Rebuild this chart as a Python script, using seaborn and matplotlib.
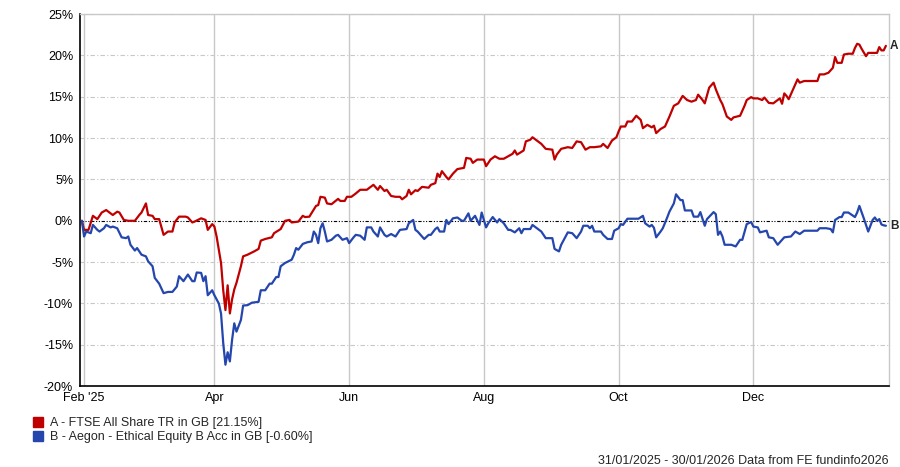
import pandas as pd
import matplotlib.pyplot as plt
import seaborn as sns
from matplotlib.lines import Line2D
from matplotlib.ticker import FuncFormatter

sns.set_style("white")
plt.rcParams['font.family'] = ['Liberation Sans', 'DejaVu Sans']
plt.rcParams['font.size'] = 9

start_date = '2025-01-31'

# days after 31/01/2025, cumulative return in %
ftse_days = [0, 1, 3, 5, 7, 9, 11, 14, 16, 17, 19, 21, 24, 26, 27, 29, 30, 32, 33, 35,
             37, 39, 41, 42, 44, 47, 48, 50, 51, 54, 56, 57, 59, 60, 61, 62, 63, 64, 65, 66,
             67, 68, 69, 70, 72, 73, 75, 78, 80, 81, 83, 86, 87, 90, 92, 94, 95, 98, 100, 101,
             103, 106, 107, 108, 110, 111, 113, 116, 117, 119, 120, 122, 124, 126, 129, 132, 134, 135, 137, 138,
             140, 142, 144, 145, 147, 148, 149, 151, 152, 154, 157, 158, 160, 161, 162, 163, 165, 166, 168, 170,
             173, 174, 176, 177, 179, 182, 183, 185, 187, 189, 191, 193, 195, 196, 197, 200, 201, 203, 204, 206,
             208, 210, 213, 214, 215, 217, 220, 222, 224, 226, 228, 230, 232, 235, 236, 238, 240, 242, 243, 244,
             246, 247, 249, 251, 253, 254, 256, 258, 259, 260, 262, 264, 266, 268, 270, 272, 274, 276, 278, 279,
             281, 282, 284, 286, 287, 289, 290, 292, 294, 295, 298, 300, 301, 303, 304, 306, 308, 309, 311, 313,
             316, 317, 318, 319, 320, 322, 324, 325, 327, 330, 333, 334, 336, 338, 340, 341, 342, 344, 345, 347,
             349, 350, 351, 352, 353, 355, 356, 358, 360, 361, 362, 363, 364]
ftse_pct = [0.0, -1.1, -1.1, 0.6, 0.2, 1.0, 1.3, 0.7, 1.1, 1.0, 0.1, 0.0, 0.0, 0.7, 1.0, 2.1, 0.7, 0.6, 0.2, 0.2,
            -1.7, -1.3, -1.3, -0.2, 0.5, 0.5, 0.4, -0.2, -0.1, 0.3, 0.1, -1.1, -0.4, -0.7, -1.9, -3.5, -5.1, -8.4, -10.8, -7.8,
            -11.2, -9.5, -8.3, -7.5, -5.5, -4.3, -4.1, -3.7, -3.4, -2.4, -2.2, -2.0, -1.5, -1.0, 0.0, 0.1, -0.2, -0.1, 0.6, 0.45,
            0.5, 1.8, 1.9, 2.9, 2.8, 2.1, 2.0, 2.65, 2.4, 2.4, 2.9, 2.9, 3.3, 3.75, 3.75, 4.35, 3.75, 4.2, 3.6, 3.75,
            3.0, 2.9, 2.9, 2.6, 3.0, 3.75, 3.2, 3.7, 3.6, 4.1, 4.0, 4.35, 4.55, 5.7, 5.3, 6.0, 5.3, 5.0, 5.7, 6.25,
            6.4, 7.6, 7.5, 7.0, 7.4, 7.4, 6.6, 7.4, 7.8, 7.5, 7.5, 7.8, 8.1, 8.5, 8.0, 8.5, 9.6, 9.8, 10.1, 9.7,
            9.3, 8.7, 8.6, 7.4, 8.0, 8.7, 8.9, 8.8, 9.6, 9.5, 8.6, 8.9, 8.9, 9.0, 9.3, 8.8, 9.7, 10.1, 10.8, 11.4,
            11.4, 12.0, 12.0, 12.7, 12.2, 11.2, 11.6, 11.3, 11.5, 10.6, 11.1, 11.4, 12.6, 13.9, 14.2, 15.1, 14.6, 14.4, 14.6, 15.25,
            14.6, 14.2, 16.1, 16.7, 15.9, 14.6, 14.1, 12.6, 12.2, 12.5, 12.7, 13.9, 14.6, 14.95, 14.8, 14.8, 14.6, 14.9, 14.25, 14.2,
            14.8, 14.15, 15.4, 15.1, 14.7, 15.9, 17.1, 16.7, 16.9, 16.9, 16.9, 17.7, 17.7, 17.9, 18.5, 19.8, 19.1, 19.1, 20.1, 20.2,
            20.2, 20.9, 21.4, 21.3, 20.8, 19.9, 20.3, 20.3, 20.3, 21.0, 20.6, 20.6, 21.15]

aegon_days = [0, 1, 2, 4, 5, 7, 8, 10, 11, 13, 14, 16, 18, 20, 21, 22, 24, 25, 27, 29,
              30, 32, 33, 35, 37, 39, 41, 43, 44, 46, 48, 50, 51, 52, 54, 55, 56, 57, 59, 60,
              62, 63, 64, 65, 66, 67, 68, 69, 70, 72, 73, 75, 77, 80, 81, 83, 85, 86, 88, 89,
              90, 92, 95, 96, 97, 98, 100, 102, 104, 105, 106, 107, 108, 109, 110, 111, 113, 115, 116, 118,
              120, 121, 123, 124, 126, 128, 129, 131, 132, 134, 135, 137, 138, 140, 142, 144, 147, 148, 150, 151,
              152, 154, 155, 157, 158, 160, 161, 162, 164, 165, 166, 168, 170, 172, 173, 175, 176, 178, 180, 181,
              183, 184, 186, 188, 189, 191, 193, 194, 196, 198, 199, 200, 203, 204, 207, 208, 210, 213, 214, 216,
              217, 220, 222, 224, 226, 227, 229, 230, 231, 232, 235, 236, 238, 240, 241, 243, 244, 245, 247, 250,
              252, 254, 255, 257, 258, 259, 260, 262, 263, 265, 266, 268, 269, 271, 272, 273, 276, 277, 279, 280,
              282, 283, 286, 287, 288, 289, 290, 291, 294, 296, 298, 299, 301, 303, 304, 306, 307, 310, 311, 313,
              315, 317, 318, 321, 323, 325, 327, 329, 333, 334, 337, 339, 340, 341, 343, 344, 345, 347, 350, 351,
              352, 354, 355, 356, 358, 359, 360, 361, 362, 363, 364]
aegon_pct = [0.0, -1.9, -1.3, -1.5, -0.5, -1.1, -1.3, -0.9, -0.5, -0.8, -0.7, -0.9, -2.0, -2.1, -1.9, -2.9, -3.6, -3.3, -4.1, -4.3,
             -4.9, -5.5, -6.9, -7.6, -8.75, -8.6, -8.6, -7.95, -6.7, -7.3, -6.5, -7.3, -7.3, -6.25, -6.3, -7.3, -6.7, -9.0, -8.4, -9.0,
             -10.0, -11.2, -14.8, -17.4, -15.9, -17.0, -14.4, -12.4, -13.4, -12.0, -10.25, -10.2, -9.9, -9.8, -8.4, -8.4, -7.6, -7.6, -6.8, -6.8,
             -5.5, -5.1, -4.7, -4.1, -3.3, -3.5, -2.8, -2.6, -2.5, -1.3, -1.7, -2.7, -0.9, -0.3, -1.3, -2.5, -2.3, -1.8, -1.7, -2.3,
             -2.1, -2.7, -2.0, -1.7, -1.8, -2.3, -0.8, -0.8, -1.3, -1.9, -0.8, -1.7, -1.9, -1.6, -1.9, -1.1, -1.0, -0.3, 0.1, -1.1,
             -1.3, -1.9, -2.2, -1.7, -1.7, -1.0, -0.8, -1.3, -1.3, 0.1, -0.4, 0.3, 0.4, 0.0, 0.0, 0.9, 0.0, 0.6, -0.5, 1.0,
             -0.8, -0.3, 0.45, -0.2, 0.2, -0.3, -1.1, -1.1, -1.4, -0.9, -1.5, -1.0, -1.0, -0.5, -1.1, -1.3, -2.1, -2.1, -3.4, -3.7,
             -2.9, -1.4, -1.5, -2.1, -1.3, -0.6, -0.6, -0.9, -0.6, -1.3, -1.3, -1.7, -2.2, -2.2, -1.2, -0.9, -0.4, -0.5, 0.25, 0.25,
             0.25, 0.6, -0.3, -0.7, -0.5, -0.85, -2.0, -1.3, -0.9, 0.4, 1.1, 2.1, 3.2, 2.5, 2.5, 1.25, 1.25, 0.5, 0.5, 1.05,
             -0.6, 0.2, 1.05, 0.8, -1.7, -1.3, -1.9, -2.9, -2.9, -3.1, -2.3, -2.3, -0.4, -0.15, -0.7, -0.8, -1.4, -1.2, -2.0, -2.1,
             -2.9, -2.3, -2.0, -1.9, -1.3, -1.6, -1.2, -1.2, -1.2, -0.9, -0.9, -1.0, -1.4, 0.1, 0.45, 0.45, 1.0, 1.0, 0.45, 1.0,
             1.8, 0.3, -0.5, -1.3, 0.1, 0.4, 0.0, 0.2, -0.45, -0.55, -0.6]

series_names = ['A - FTSE All Share TR in GB [21.15%]',
                'B - Aegon - Ethical Equity B Acc in GB [-0.60%]']
series_tags = ['A', 'B']
series_colors = ['#c00000', '#2446ad']

tick_dates = ['2025-02-01', '2025-04-01', '2025-06-01', '2025-08-01', '2025-10-01', '2025-12-01']
tick_labels = ["Feb '25", 'Apr', 'Jun', 'Aug', 'Oct', 'Dec']
y_ticks = [-20, -15, -10, -5, 0, 5, 10, 15, 20, 25]

footer = '31/01/2025 - 30/01/2026 Data from FE fundinfo2026'

start = pd.Timestamp(start_date)
frames = []
for name, days, pct in [(series_names[0], ftse_days, ftse_pct), (series_names[1], aegon_days, aegon_pct)]:
    frames.append(pd.DataFrame({'Date': start + pd.to_timedelta(days, unit='D'),
                                'Return': pct, 'Series': name}))
df = pd.concat(frames, ignore_index=True)

fig = plt.figure(figsize=(9, 4.67), dpi=100)
ax = fig.add_axes([0.089, 0.173, 0.899, 0.797])

# grid first so the lines sit on top
for d in tick_dates:
    ax.axvline(pd.Timestamp(d), color='#c8c8c8', lw=1, zorder=0)
for y in y_ticks:
    if y != 0:
        ax.axhline(y, color='#c8c8c8', lw=0.8, linestyle=(0, (4, 2, 1, 2)), zorder=0)
ax.axhline(0, color='black', lw=0.8, linestyle=(0, (3, 1.5, 1, 1.5, 1, 1.5)), zorder=1)

sns.lineplot(data=df, x='Date', y='Return', hue='Series', palette=series_colors,
             linewidth=1.6, ax=ax, legend=False, zorder=3)

# end labels
for name, tag in zip(series_names, series_tags):
    last = df[df['Series'] == name].iloc[-1]
    ax.annotate(tag, xy=(last['Date'], last['Return']), xytext=(3, 0), textcoords='offset points',
                ha='left', va='center', fontsize=8.5, fontweight='bold', annotation_clip=False)

ax.set_xlim(start - pd.Timedelta(days=0.8), start + pd.Timedelta(days=365.5))
ax.set_ylim(-20, 25)
ax.set_yticks(y_ticks)
ax.yaxis.set_major_formatter(FuncFormatter(lambda v, p: f'{v:.0f}%'))
ax.set_xticks([pd.Timestamp(d) for d in tick_dates])
ax.set_xticklabels(tick_labels)
ax.set_xlabel('')
ax.set_ylabel('')
ax.tick_params(axis='both', labelsize=9, colors='black', length=3, width=0.8, pad=1)
ax.tick_params(axis='y', length=0, pad=5)

for side in ['top', 'right']:
    ax.spines[side].set_color('#c8c8c8')
    ax.spines[side].set_linewidth(1)
for side in ['left', 'bottom']:
    ax.spines[side].set_color('black')
    ax.spines[side].set_linewidth(1.2)

handles = [Line2D([], [], marker='s', linestyle='none', color=c, markersize=7) for c in series_colors]
fig.legend(handles, series_names, loc='upper left', bbox_to_anchor=(0.028, 0.118),
           frameon=False, fontsize=9, handletextpad=0.4, labelspacing=0.2, borderaxespad=0,
           handlelength=1.2)

fig.text(0.987, 0.013, footer, ha='right', va='center', fontsize=9)

plt.savefig('out.png', dpi=100)
